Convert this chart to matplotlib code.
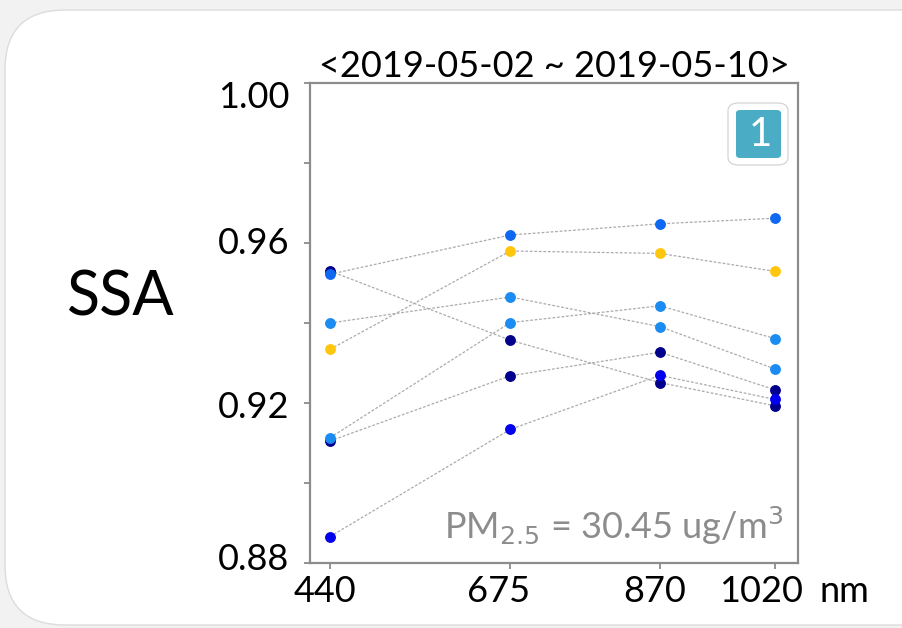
import matplotlib
matplotlib.use("Agg")
import matplotlib.pyplot as plt
from matplotlib.patches import FancyBboxPatch
from matplotlib.transforms import ScaledTranslation

plt.rcParams['font.family'] = ['Lato', 'DejaVu Sans']

# wavelengths (nm) and single scattering albedo per day
wavelengths = [440, 675, 870, 1020]
ssa_series = [
    [0.9530, 0.9357, 0.9251, 0.9193],
    [0.9522, 0.9620, 0.9648, 0.9662],
    [0.9400, 0.9465, 0.9391, 0.9285],
    [0.9334, 0.9580, 0.9574, 0.9529],
    [0.9105, 0.9268, 0.9327, 0.9233],
    [0.9113, 0.9401, 0.9443, 0.9361],
    [0.8866, 0.9134, 0.9269, 0.9209],
]
series_colors = ['#00008c', '#0f68f2', '#1a8cf2', '#ffc60d',
                 '#00008c', '#1a8cf2', '#0000ee']
yticks = [0.88, 0.90, 0.92, 0.94, 0.96, 0.98, 1.00]
ytick_labels = ['0.88', '', '0.92', '', '0.96', '', '1.00']
title = '<2019-05-02 ~ 2019-05-10>'
pm_text = 'PM$_{2.5}$ = 30.45 ug/m$^3$'

fig = plt.figure(figsize=(9.03, 6.28), dpi=100)
fig.patch.set_facecolor('#f2f2f2')

# white slide panel with rounded left corners (behind everything)
panel = FancyBboxPatch((0.05, 0.03), 9.6, 6.15,
                       boxstyle='round,pad=0,rounding_size=0.6',
                       transform=fig.dpi_scale_trans, facecolor='white',
                       edgecolor='#dcdcdc', linewidth=1.0, zorder=-5)
fig.patches.append(panel)

ax = fig.add_axes([310 / 903, 1 - 563 / 628, 488 / 903, 480 / 628])
ax.set_facecolor('white')

for vals in ssa_series:
    ax.plot(wavelengths, vals, color='#ababab', lw=0.9,
            linestyle=(0, (2.2, 1.4)), zorder=2)
for vals, c in zip(ssa_series, series_colors):
    ax.plot(wavelengths, vals, linestyle='none', marker='o', ms=6.8,
            mfc=c, mec=c, zorder=3)

ax.set_xlim(414, 1050)
ax.set_ylim(0.88, 1.00)
ax.set_xticks(wavelengths)
ax.set_xticklabels([str(w) for w in wavelengths])
ax.set_yticks(yticks)
ax.set_yticklabels(ytick_labels)
ax.tick_params(axis='both', labelsize=26, color='#808080', length=4,
               width=1.2, direction='out')
ax.tick_params(axis='y', pad=11)
ax.tick_params(axis='x', pad=5)
for sp in ax.spines.values():
    sp.set_color('#8c8c8c')
    sp.set_linewidth(1.6)

# the hand-placed tick labels sit a little off their ticks
y_shift_px = [7, 0, -2, 0, 2, 0, -12]
for lab, dy in zip(ax.get_yticklabels(), y_shift_px):
    lab.set_transform(lab.get_transform() +
                      ScaledTranslation(0, dy / 100, fig.dpi_scale_trans))
x_shift_px = [-5, -12, -5, -14]
for lab, dx in zip(ax.get_xticklabels(), x_shift_px):
    lab.set_transform(lab.get_transform() +
                      ScaledTranslation(dx / 100, 0, fig.dpi_scale_trans))

ax.set_title(title, fontsize=26, pad=4)
ax.text(1.045, -0.025, 'nm', transform=ax.transAxes, fontsize=26,
        ha='left', va='top')
ax.text(0.97, 0.035, pm_text, transform=ax.transAxes, fontsize=26,
        color='#8c8c8c', ha='right', va='bottom')

fig.text(121 / 903, 1 - 298 / 628, 'SSA', fontsize=44, ha='center',
         va='center')

# numbered badge in the top-right corner
badge_out = FancyBboxPatch((728 / 903, 1 - 165 / 628), 60 / 903, 62 / 628,
                           boxstyle='round,pad=0,rounding_size=0.012',
                           transform=fig.transFigure, facecolor='white',
                           edgecolor='#d0d0d0', linewidth=0.8, zorder=5)
badge_in = FancyBboxPatch((736 / 903, 1 - 158 / 628), 45 / 903, 48 / 628,
                          boxstyle='round,pad=0,rounding_size=0.005',
                          transform=fig.transFigure, facecolor='#4bacc6',
                          edgecolor='none', zorder=6)
fig.patches.append(badge_out)
fig.patches.append(badge_in)
fig.text(760 / 903, 1 - 134 / 628, '1', fontsize=29, color='white',
         ha='center', va='center', zorder=7)

fig.savefig('out.png', dpi=100, facecolor=fig.get_facecolor())
